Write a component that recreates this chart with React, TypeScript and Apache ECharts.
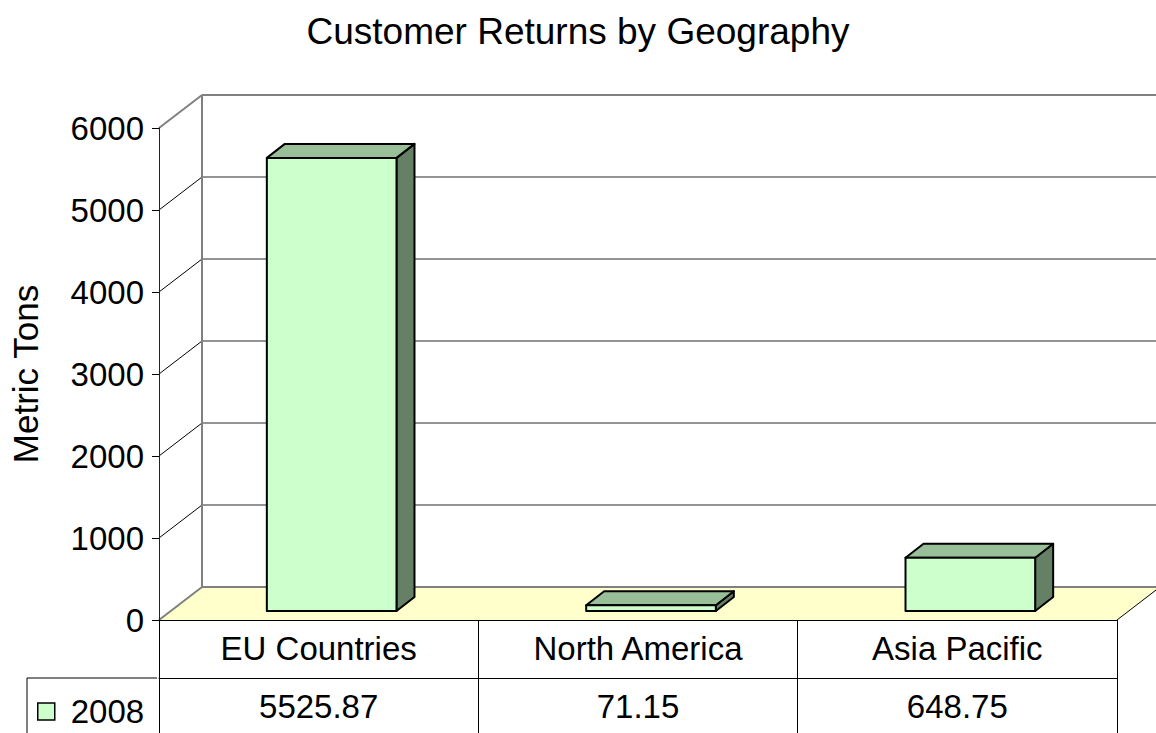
import React, { useEffect, useRef } from "react";
import * as echarts from "echarts";

const categories = ["EU Countries", "North America", "Asia Pacific"];
const seriesName = "2008";
const values = [5525.87, 71.15, 648.75];
const yTicks = [0, 1000, 2000, 3000, 4000, 5000, 6000];
const chartTitle = "Customer Returns by Geography";
const yAxisTitle = "Metric Tons";

// 3D projection settings (pixels)
const WALL_DX = 43;
const WALL_DY = -33;
const BAR_OFF_X = 13;
const BAR_OFF_Y = -9;
const BAR_DX = 18;
const BAR_DY = -14;
const BAR_RATIO = 0.406;

const FONT = "'Liberation Sans', Arial, Helvetica, sans-serif";
const FRONT = "#CCFFCC";
const TOP = "#99BF99";
const SIDE = "#668066";
const FLOOR = "#FFFFCC";
const WALL_LINE = "#808080";

export default function App() {
  const ref = useRef<HTMLDivElement>(null);

  useEffect(() => {
    if (!ref.current) return;
    const chart = echarts.init(ref.current, undefined, { renderer: "svg" });
    const n = categories.length;

    const frameRender = (params: any, api: any) => {
      const band = api.size([1, 0])[0];
      const c0 = api.coord([0, yTicks[0]]);
      const left = c0[0] - band / 2;
      const right = api.coord([n - 1, yTicks[0]])[0] + band / 2;
      const y0 = c0[1];
      const children: any[] = [];
      children.push({
        type: "polygon",
        shape: {
          points: [
            [left, y0],
            [left + WALL_DX, y0 + WALL_DY],
            [right + WALL_DX, y0 + WALL_DY],
            [right, y0],
          ],
        },
        style: { fill: FLOOR, stroke: null },
      });
      children.push({
        type: "line",
        shape: { x1: right, y1: y0, x2: right + WALL_DX, y2: y0 + WALL_DY },
        style: { stroke: "#000", lineWidth: 1 },
      });
      const yTop = api.coord([0, yTicks[yTicks.length - 1]])[1];
      yTicks.forEach((t, i) => {
        const y = api.coord([0, t])[1];
        const edge = i === 0 || i === yTicks.length - 1;
        children.push({
          type: "line",
          shape: { x1: left + WALL_DX, y1: y + WALL_DY, x2: right + WALL_DX + 20, y2: y + WALL_DY },
          style: { stroke: edge ? WALL_LINE : "#707070", lineWidth: edge ? 2 : 1.5 },
        });
        children.push({
          type: "line",
          shape: { x1: left, y1: y, x2: left + WALL_DX, y2: y + WALL_DY },
          style: { stroke: edge ? WALL_LINE : "#000", lineWidth: edge ? 2 : 1 },
        });
      });
      children.push({
        type: "line",
        shape: { x1: left + WALL_DX, y1: yTop + WALL_DY, x2: left + WALL_DX, y2: y0 + WALL_DY },
        style: { stroke: WALL_LINE, lineWidth: 2 },
      });
      return { type: "group", children };
    };

    const barRender = (params: any, api: any) => {
      const idx = api.value(0);
      const v = api.value(1);
      const base = api.coord([idx, 0]);
      const top = api.coord([idx, v]);
      const band = api.size([1, 0])[0];
      const w = band * BAR_RATIO;
      const x0 = base[0] + BAR_OFF_X - w / 2;
      const x1 = x0 + w;
      const yb = base[1] + BAR_OFF_Y;
      const yt = top[1] + BAR_OFF_Y;
      const stroke = { stroke: "#000", lineWidth: 2, lineJoin: "round" };
      return {
        type: "group",
        children: [
          {
            type: "polygon",
            shape: {
              points: [
                [x1, yt],
                [x1 + BAR_DX, yt + BAR_DY],
                [x1 + BAR_DX, yb + BAR_DY],
                [x1, yb],
              ],
            },
            style: { fill: SIDE, ...stroke },
          },
          {
            type: "polygon",
            shape: {
              points: [
                [x0, yt],
                [x0 + BAR_DX, yt + BAR_DY],
                [x1 + BAR_DX, yt + BAR_DY],
                [x1, yt],
              ],
            },
            style: { fill: TOP, ...stroke },
          },
          {
            type: "rect",
            shape: { x: x0, y: yt, width: w, height: yb - yt },
            style: { fill: FRONT, ...stroke },
          },
        ],
      };
    };

    chart.setOption({
      animation: false,
      backgroundColor: "#ffffff",
      title: {
        text: chartTitle,
        left: "center",
        top: 8,
        textStyle: { fontFamily: FONT, fontSize: 37, fontWeight: "normal", color: "#000" },
      },
      legend: {
        data: [
          {
            name: seriesName,
            icon: "rect",
            itemStyle: { color: FRONT, borderColor: "#000", borderWidth: 1.5 },
          },
        ],
        left: 37,
        top: 695,
        padding: 0,
        itemWidth: 17,
        itemHeight: 17,
        selectedMode: false,
        textStyle: { fontFamily: FONT, fontSize: 33, lineHeight: 33, color: "#000", padding: [0, 0, 0, 11] },
      },
      grid: { left: 157, right: 39, top: 128, bottom: 113, containLabel: false },
      xAxis: [
        {
          type: "category",
          data: categories,
          position: "bottom",
          z: 5,
          axisLine: { show: true, lineStyle: { color: "#000", width: 1 } },
          axisTick: { show: true, alignWithLabel: false, interval: 0, length: 113, lineStyle: { color: "#000", width: 1 } },
          axisLabel: { interval: 0, fontFamily: FONT, fontSize: 33, color: "#000", margin: 12 },
          splitLine: { show: false },
        },
        {
          type: "category",
          data: values.map((v) => v.toFixed(2)),
          position: "bottom",
          offset: 58,
          z: 5,
          axisLine: { show: true, lineStyle: { color: "#000", width: 1 } },
          axisTick: { show: false },
          axisLabel: { interval: 0, fontFamily: FONT, fontSize: 33, color: "#000", margin: 12 },
          splitLine: { show: false },
        },
      ],
      yAxis: {
        type: "value",
        min: yTicks[0],
        max: yTicks[yTicks.length - 1],
        interval: yTicks[1] - yTicks[0],
        z: 5,
        name: yAxisTitle,
        nameLocation: "middle",
        nameGap: 116,
        nameTextStyle: { fontFamily: FONT, fontSize: 35, color: "#000" },
        axisLine: { show: true, lineStyle: { color: "#222", width: 1 } },
        axisTick: { show: true, length: 7, lineStyle: { color: "#000", width: 1 } },
        axisLabel: {
          fontFamily: FONT,
          fontSize: 33,
          color: "#000",
          margin: 15,
          formatter: (v: number) => String(v),
        },
        splitLine: { show: false },
      },
      graphic: [
        { type: "line", shape: { x1: 27, y1: 678, x2: 157, y2: 678 }, style: { stroke: "#000", lineWidth: 1 } },
        { type: "line", shape: { x1: 27, y1: 678, x2: 27, y2: 733 }, style: { stroke: "#000", lineWidth: 1 } },
      ],
      series: [
        {
          name: "frame",
          type: "custom",
          z: 1,
          silent: true,
          xAxisIndex: 0,
          yAxisIndex: 0,
          renderItem: frameRender,
          data: [[0, 0]],
        },
        {
          name: seriesName,
          type: "custom",
          z: 3,
          xAxisIndex: 0,
          yAxisIndex: 0,
          itemStyle: { color: FRONT, borderColor: "#000", borderWidth: 1.5 },
          renderItem: barRender,
          data: categories.map((c, i) => [i, values[i]]),
        },
      ],
    });

    return () => chart.dispose();
  }, []);

  return (
    <div
      ref={ref}
      style={{ position: "absolute", left: 0, top: 0, width: 1156, height: 733 }}
    />
  );
}
